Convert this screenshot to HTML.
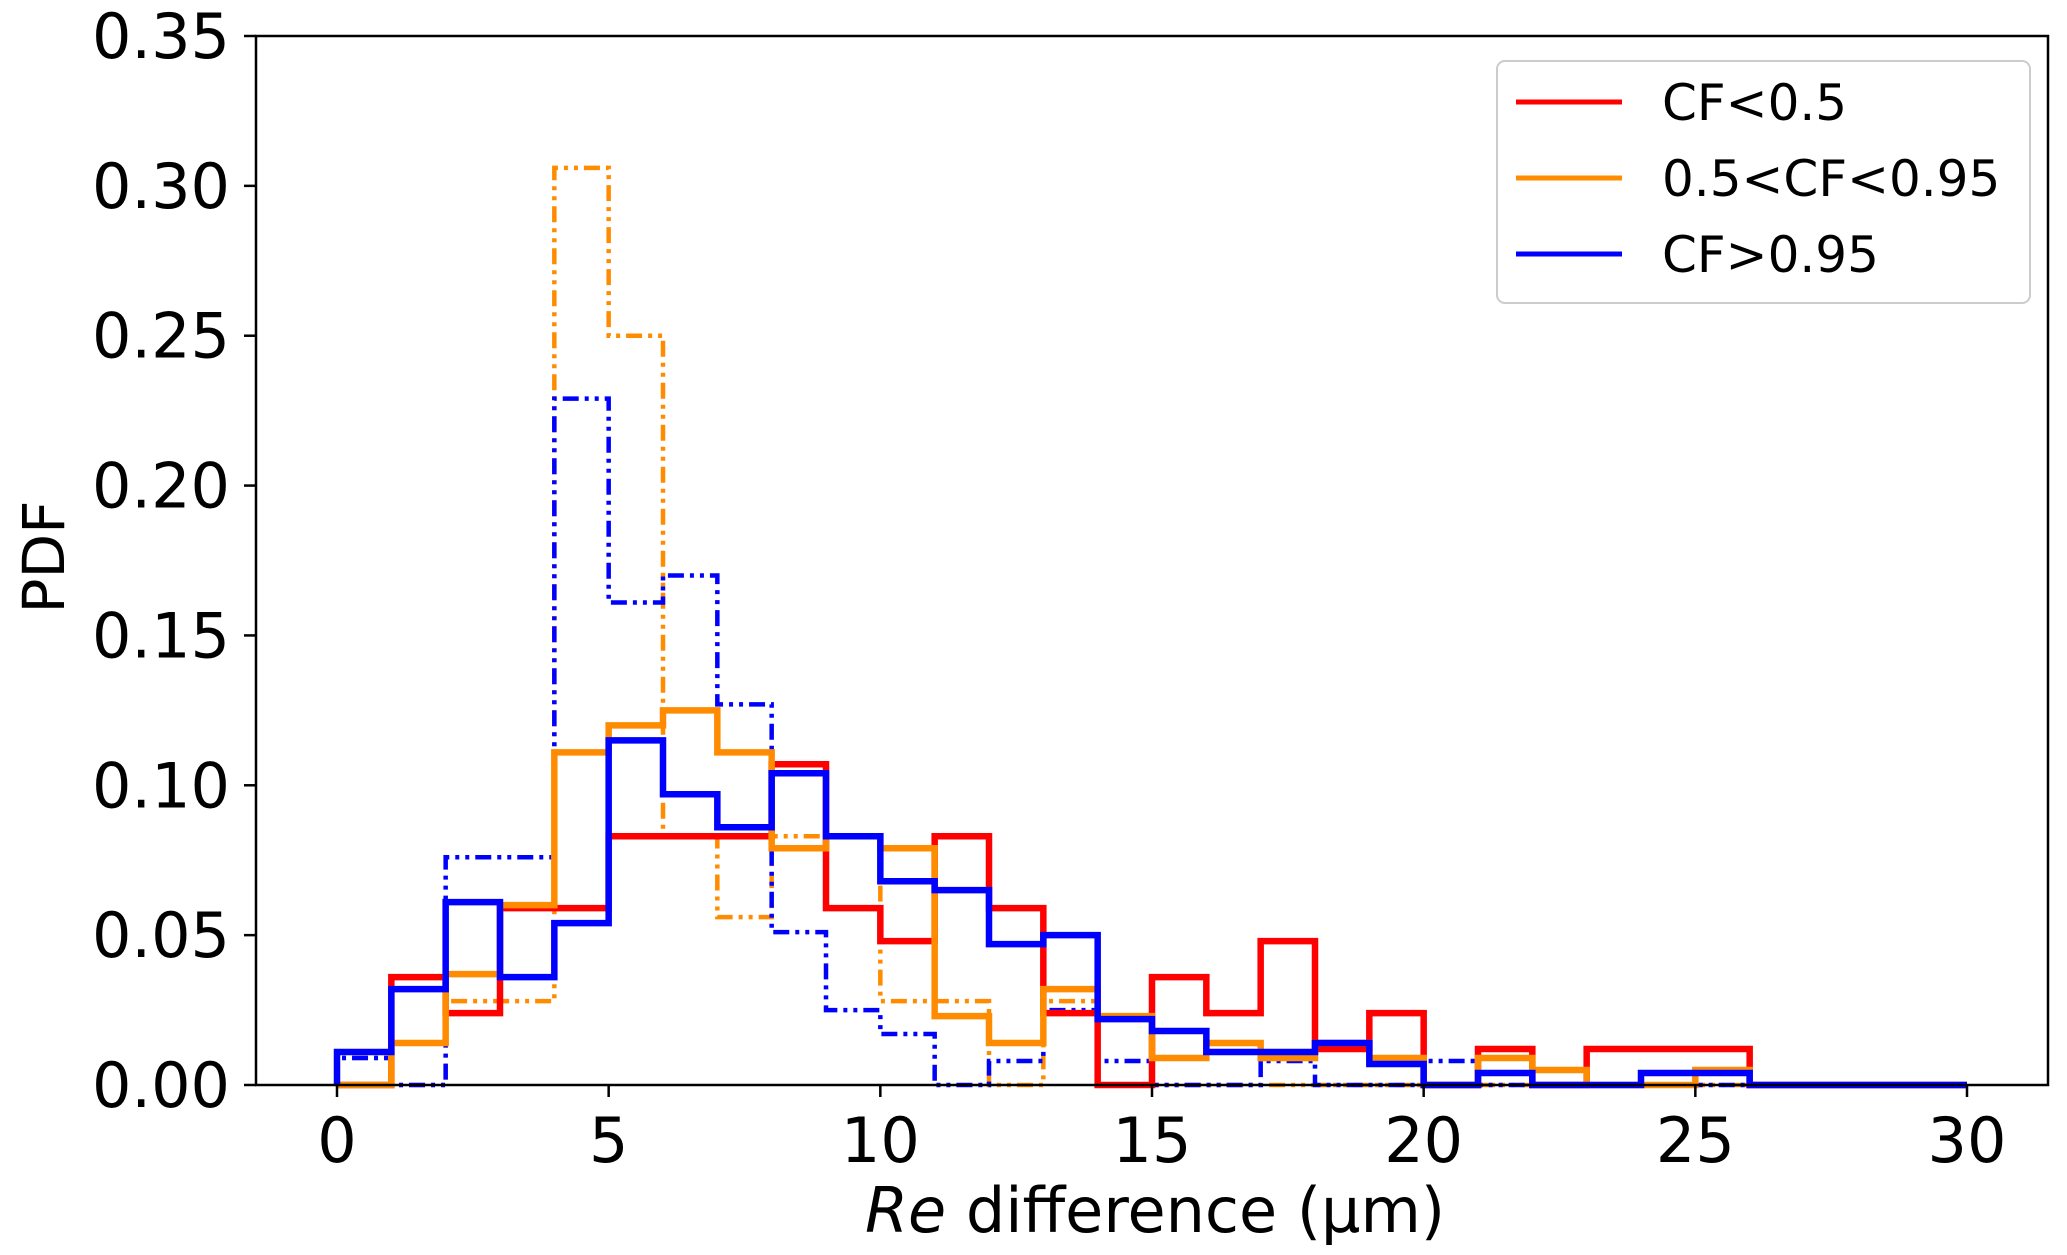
<!DOCTYPE html>
<html><head><meta charset="utf-8"><style>
html,body{margin:0;padding:0;background:#fff;}
svg{display:block;font-family:"DejaVu Sans","Liberation Sans",sans-serif;}
</style></head><body>
<svg id="chart" width="2067" height="1255" viewBox="0 0 2067 1255">
<rect x="0" y="0" width="2067" height="1255" fill="#fff"/>
<g id="series"></g>
<rect x="256" y="36" width="1792" height="1049" fill="none" stroke="#000" stroke-width="2.5"/>
<g id="xticks"></g><g id="yticks"></g>
<text x="44" y="557" transform="rotate(-90 44 557)" text-anchor="middle" dominant-baseline="central" font-size="58">PDF</text>
<text x="1155" y="1232" text-anchor="middle" font-size="62"><tspan font-style="italic">Re</tspan> difference (µm)</text>
<g>
<rect x="1497" y="61" width="533" height="242" rx="8" fill="#fff" stroke="#ccc" stroke-width="2"/>
<line x1="1516" y1="102" x2="1622" y2="102" stroke="#ff0000" stroke-width="5"/>
<text x="1662" y="120" font-size="50">CF&lt;0.5</text>
<line x1="1516" y1="178" x2="1622" y2="178" stroke="#ff8c00" stroke-width="5"/>
<text x="1662" y="196" font-size="50">0.5&lt;CF&lt;0.95</text>
<line x1="1516" y1="254" x2="1622" y2="254" stroke="#0000ff" stroke-width="5"/>
<text x="1662" y="272" font-size="50">CF&gt;0.95</text>
</g>
</svg>
<script>
const binEdges0 = 0;
const binWidth = 1;
const redSolid = [0,0.036,0.024,0.059,0.059,0.083,0.083,0.083,0.107,0.059,0.048,0.083,0.059,0.024,0,0.036,0.024,0.048,0.012,0.024,0,0.012,0,0.012,0.012,0.012,0,0,0,0];
const orangeSolid = [0,0.014,0.037,0.060,0.111,0.120,0.125,0.111,0.079,0.083,0.079,0.023,0.014,0.032,0.023,0.009,0.014,0.009,0.014,0.009,0,0.009,0.005,0,0,0.005,0,0,0,0];
const blueSolid = [0.011,0.032,0.061,0.036,0.054,0.115,0.097,0.086,0.104,0.083,0.068,0.065,0.047,0.050,0.022,0.018,0.011,0.011,0.014,0.007,0,0.004,0,0,0.004,0.004,0,0,0,0];
const orangeDash = [0.009,0,0.028,0.028,0.306,0.25,0.083,0.056,0.083,0.083,0.028,0.028,0,0.028,0,0,0,0,0,0,0,0,0,0,0,0,0,0,0,0];
const blueDash = [0.009,0,0.076,0.076,0.229,0.161,0.170,0.127,0.051,0.025,0.017,0,0.008,0.025,0.008,0,0,0.008,0,0,0.008,0,0,0,0,0,0,0,0,0];
const xTickVals = [0,5,10,15,20,25,30];
const yTickVals = [0,0.05,0.10,0.15,0.20,0.25,0.30,0.35];
const yTickLabels = ["0.00","0.05","0.10","0.15","0.20","0.25","0.30","0.35"];

const NS = "http://www.w3.org/2000/svg";
function xs(v){return 337 + (v/30)*(1967-337);}
function ys(v){return 1085 - (v/0.35)*(1085-36);}

function drawStep(vals, color, width, dash, name){
  let d = "M"+xs(binEdges0)+","+ys(0);
  for(let i=0;i<vals.length;i++){
    d += " V"+ys(vals[i])+" H"+xs(binEdges0+(i+1)*binWidth);
  }
  d += " V"+ys(0);
  const p = document.createElementNS(NS,"path");
  p.setAttribute("d",d);
  p.setAttribute("fill","none");
  p.setAttribute("stroke",color);
  p.setAttribute("stroke-width",width);
  if(dash) p.setAttribute("stroke-dasharray",dash);
  
  
  document.getElementById("series").appendChild(p);
}
drawStep(orangeDash,"#ff8c00",4.5,"16,6,4,6,4,6","series-cf-mid-dashdot");
drawStep(blueDash,"#0000ff",4.5,"16,6,4,6,4,6","series-cf-high-dashdot");
drawStep(redSolid,"#ff0000",6.5,null,"series-cf-low");
drawStep(orangeSolid,"#ff8c00",6.5,null,"series-cf-mid");
drawStep(blueSolid,"#0000ff",6.5,null,"series-cf-high");

const xg = document.getElementById("xticks");
xTickVals.forEach(v=>{
  const l = document.createElementNS(NS,"line");
  l.setAttribute("x1",xs(v));l.setAttribute("x2",xs(v));
  l.setAttribute("y1",1085);l.setAttribute("y2",1097);
  l.setAttribute("stroke","#000");l.setAttribute("stroke-width",2.5);
  
  
  xg.appendChild(l);
  const t = document.createElementNS(NS,"text");
  t.setAttribute("x",xs(v));t.setAttribute("y",1162);
  t.setAttribute("text-anchor","middle");t.setAttribute("font-size","62");
  t.textContent = String(v);
  
  
  xg.appendChild(t);
});
const yg = document.getElementById("yticks");
yTickVals.forEach((v,i)=>{
  const l = document.createElementNS(NS,"line");
  l.setAttribute("x1",244);l.setAttribute("x2",256);
  l.setAttribute("y1",ys(v));l.setAttribute("y2",ys(v));
  l.setAttribute("stroke","#000");l.setAttribute("stroke-width",2.5);
  
  
  yg.appendChild(l);
  const t = document.createElementNS(NS,"text");
  t.setAttribute("x",230);t.setAttribute("y",ys(v)+22);
  t.setAttribute("text-anchor","end");t.setAttribute("font-size","62");
  t.textContent = yTickLabels[i];
  
  
  yg.appendChild(t);
});
</script>
</body></html>
